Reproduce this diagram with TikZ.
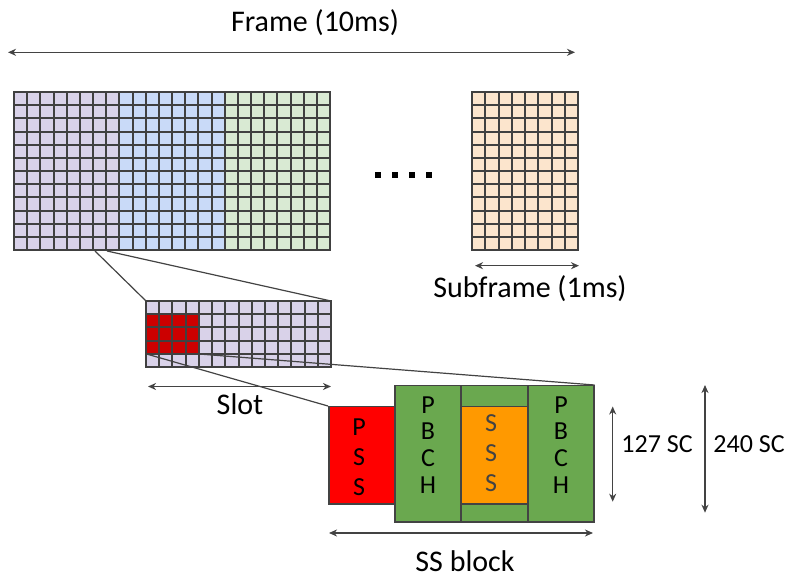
\documentclass[tikz,border=0pt]{standalone}
\usepackage{fontspec}
\setmainfont{Carlito}
\usetikzlibrary{arrows.meta}
\definecolor{gridline}{HTML}{404040}
\definecolor{cpurple}{HTML}{D9D2E9}
\definecolor{cblue}{HTML}{C9DAF8}
\definecolor{cgreen}{HTML}{D9EAD3}
\definecolor{corange}{HTML}{FCE5CD}
\definecolor{cdarkred}{HTML}{CC0000}
\definecolor{cred}{HTML}{FF0000}
\definecolor{cblock}{HTML}{6AA84F}
\definecolor{csss}{HTML}{FF9900}
\definecolor{ink}{HTML}{434343}
\newcommand\drawcellgrid[6]{% x0,y0,cols,rows,cw,ch
  \foreach \i in {0,...,#3}{\draw[gridstyle] ({round(#1+\i*#5)},{round(#2)}) -- ({round(#1+\i*#5)},{round(#2+#4*#6)});}
  \foreach \j in {0,...,#4}{\draw[gridstyle] ({round(#1)},{round(#2+\j*#6)}) -- ({round(#1+#3*#5)},{round(#2+\j*#6)});}
}
\tikzset{
  gridstyle/.style={draw=gridline, line width=2pt, line cap=rect},
  dimarrow/.style={draw=ink, line width=1.3pt, {Stealth[length=8pt,width=7pt,inset=2.5pt]}-{Stealth[length=8pt,width=7pt,inset=2.5pt]}},
  zoomline/.style={draw=ink, line width=1.2pt},
  blockbox/.style={draw=ink, line width=1.5pt, inner sep=0pt, anchor=north west},
  bigtext/.style={font=\fontsize{30}{36}\selectfont, text=black, inner sep=0pt, anchor=base},
  sctext/.style={font=\fontsize{26}{31}\selectfont, text=black, inner sep=0pt, anchor=base},
  lettertext/.style={font=\fontsize{26}{#1}\selectfont, inner sep=0pt, align=center},
}
\begin{document}
\begin{tikzpicture}[x=1pt,y=-1pt]
\useasboundingbox (0,0) rectangle (785,577);
% ---------- main frame grid ----------
\fill[cpurple] (14,92) rectangle (119,250);
\fill[cblue] (119,92) rectangle (225,250);
\fill[cgreen] (225,92) rectangle (330,250);
\drawcellgrid{14}{92}{24}{12}{13.1667}{13.1667}
% ---------- subframe grid ----------
\fill[corange] (472,92) rectangle (578,250);
\drawcellgrid{472}{92}{8}{12}{13.25}{13.1667}
% ---------- slot grid ----------
\fill[cpurple] (146,301) rectangle (331,367);
\fill[cdarkred] (146,314) rectangle (199,354);
\drawcellgrid{146}{301}{14}{5}{13.2143}{13.2}
% ---------- named points ----------
\coordinate (fsL) at (95,251);
\coordinate (fsR) at (107,251);
\coordinate (slotTL) at (146,301);
\coordinate (slotTR) at (331,301);
\coordinate (redBL) at (146.5,354);
\coordinate (redBR) at (199,354);
% ---------- dots ----------
\foreach \dx in {375,392,409,426}{\fill[black] (\dx,172.5) rectangle ({\dx+6},178.5);}
% ---------- SS block ----------
\node[blockbox, fill=cred, minimum width=66pt, minimum height=97pt] (pss) at (328,406) {};
\node[blockbox, fill=cblock, minimum width=66pt, minimum height=136pt] (pbch1) at (394,385) {};
\node[blockbox, fill=cblock, minimum width=67pt, minimum height=136pt] (mid) at (460,385) {};
\node[blockbox, fill=csss, minimum width=67pt, minimum height=97pt] (sss) at (460,406) {};
\node[blockbox, fill=cblock, minimum width=66pt, minimum height=136pt] (pbch2) at (527,385) {};
\node[lettertext=30pt, text=black] (pssl) at (359,457) {P\\S\\S};
\node[lettertext=26.7pt, text=black] (pbch1l) at (428,445) {P\\B\\C\\H};
\node[lettertext=30pt, text=ink] (sssl) at (491,453) {S\\S\\S};
\node[lettertext=26.7pt, text=black] (pbch2l) at (561,445) {P\\B\\C\\H};
% ---------- zoom connectors ----------
\draw[zoomline] (fsL) -- (slotTL);
\draw[zoomline] (fsR) -- (slotTR);
\draw[zoomline] (redBL) -- (pss.north west);
\draw[zoomline] (redBR) -- (pbch2.north east);
% ---------- dimension arrows ----------
\coordinate (frL) at (8,52.3);
\coordinate (frR) at (575,52.3);
\draw[dimarrow] (frL) -- (frR);
\coordinate (sfL) at (475,265.7);
\coordinate (sfR) at (579,265.7);
\draw[dimarrow] (sfL) -- (sfR);
\coordinate (slL) at (148,386.5);
\coordinate (slR) at (331,386.5);
\draw[dimarrow] (slL) -- (slR);
\coordinate (ssL) at (329,533);
\coordinate (ssR) at (593,533);
\draw[dimarrow] (ssL) -- (ssR);
\coordinate (a127T) at (612.7,406.5);
\coordinate (a127B) at (612.7,501.7);
\draw[dimarrow] (a127T) -- (a127B);
\coordinate (a240T) at (705,385);
\coordinate (a240B) at (705,512.7);
\draw[dimarrow] (a240T) -- (a240B);
% ---------- labels ----------
\node[bigtext] (frame) at (315,32) {Frame (10ms)};
\node[bigtext] (subframe) at (530,298) {Subframe (1ms)};
\node[bigtext] (slot) at (240,415) {Slot};
\node[bigtext] (ssblock) at (465,571) {SS block};
\node[sctext] (sc127) at (657,452) {127 SC};
\node[sctext] (sc240) at (749,452) {240 SC};
\end{tikzpicture}
\end{document}
